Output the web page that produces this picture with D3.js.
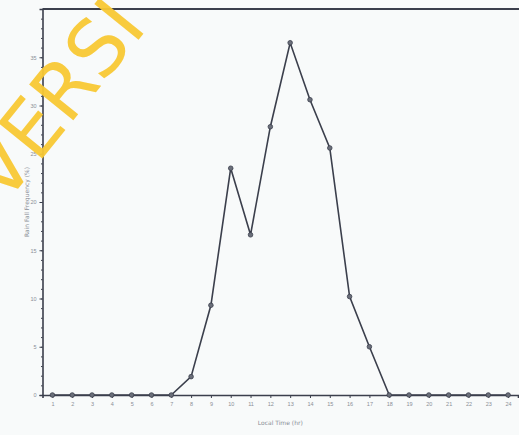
<!DOCTYPE html>
<html>
<head>
<meta charset="utf-8">
<script src="https://cdn.jsdelivr.net/npm/d3@7"></script>
<style>
  body { margin: 0; background: #f8fafa; }
</style>
</head>
<body>
<div id="chart"></div>
<script>
// hourly values
var hours = [1, 2, 3, 4, 5, 6, 7, 8, 9, 10, 11, 12, 13, 14, 15, 16, 17, 18, 19, 20, 21, 22, 23, 24];
var rainValues = [0, 0, 0, 0, 0, 0, 0, 1.9, 9.3, 23.5, 16.6, 27.8, 36.5, 30.6, 25.6, 10.2, 5.0, 0, 0, 0, 0, 0, 0, 0];
var yTicks = [0, 5, 10, 15, 20, 25, 30, 35];

var margin = { top: 9, right: 1, bottom: 40, left: 42.5 },
    width = 519 - margin.left - margin.right,
    height = 435 - margin.top - margin.bottom;

var svg = d3.select("#chart")
    .append("svg")
    .attr("width", 519)
    .attr("height", 435)
    .style("font-family", "'DejaVu Sans', sans-serif");

var g = svg.append("g")
    .attr("transform", "translate(" + margin.left + "," + margin.top + ")");

var x = d3.scaleLinear().domain([0.5, 24.5]).range([0, width]);
var y = d3.scaleLinear().domain([0, 40]).range([height, 0]);

var ink = "#3b3f4c";

// frame: top and left edges (right edge runs off the scan)
g.append("line")
    .attr("x1", 0).attr("x2", width + 5)
    .attr("y1", 0).attr("y2", 0)
    .attr("stroke", ink).attr("stroke-width", 1.8);

// X axis
var xAxis = g.append("g")
    .attr("transform", "translate(0," + height + ")")
    .call(d3.axisBottom(x).tickValues(hours).tickSize(3).tickFormat(d3.format("d")));
xAxis.select(".domain").attr("stroke", ink).attr("stroke-width", 1.6);
xAxis.selectAll(".tick line").attr("stroke", ink);
xAxis.selectAll("text")
    .attr("fill", "#8a8e96")
    .attr("font-size", 5.5)
    .attr("dy", "0.9em");

// Y axis
var yAxis = g.append("g")
    .call(d3.axisLeft(y).tickValues(yTicks).tickSize(3).tickFormat(d3.format("d")));
yAxis.select(".domain").attr("stroke", ink).attr("stroke-width", 1.6);
yAxis.selectAll(".tick line").attr("stroke", ink);
yAxis.selectAll("text")
    .attr("fill", "#8a8e96")
    .attr("font-size", 5.5);

// minor ticks on y axis
g.append("g")
    .call(d3.axisLeft(y).ticks(40).tickSize(1.5).tickFormat(""))
    .call(function (a) { a.select(".domain").remove(); })
    .selectAll("line").attr("stroke", ink);

// axis titles
g.append("text")
    .attr("x", width / 2)
    .attr("y", height + 30)
    .attr("text-anchor", "middle")
    .attr("font-size", 6)
    .attr("fill", "#8a8e96")
    .text("Local Time (hr)");

g.append("text")
    .attr("transform", "translate(-14," + (height / 2) + ")rotate(-90)")
    .attr("text-anchor", "middle")
    .attr("font-size", 6)
    .attr("fill", "#8a8e96")
    .text("Rain Fall Frequency (%)");

// line
var line = d3.line()
    .x(function (d, i) { return x(hours[i]); })
    .y(function (d) { return y(d); });

g.append("path")
    .datum(rainValues)
    .attr("fill", "none")
    .attr("stroke", ink)
    .attr("stroke-width", 1.6)
    .attr("d", line);

// markers
g.selectAll("mycircle")
    .data(rainValues)
    .enter()
    .append("circle")
    .attr("cx", function (d, i) { return x(hours[i]); })
    .attr("cy", function (d) { return y(d); })
    .attr("r", 2.3)
    .attr("fill", "#6b6f7a")
    .attr("stroke", ink)
    .attr("stroke-width", 0.8);

// scan watermark
svg.append("text")
    .attr("transform", "translate(4,206)rotate(-51)")
    .attr("font-size", 78)
    .attr("fill", "#f8c834")
    .attr("fill-opacity", 0.95)
    .text("VERSI");
</script>
</body>
</html>
